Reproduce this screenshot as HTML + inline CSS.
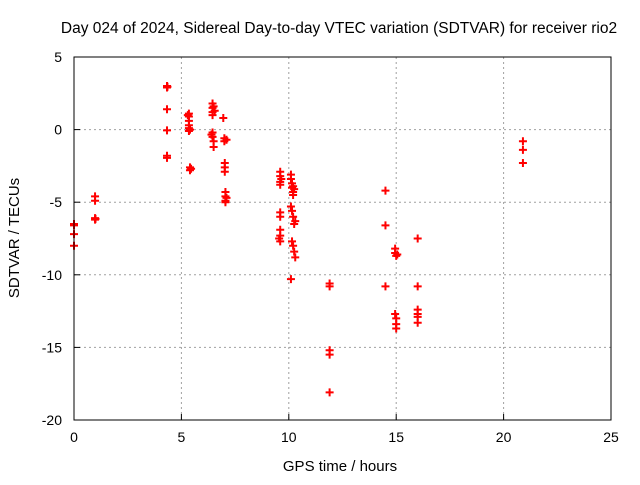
<!DOCTYPE html>
<html><head><meta charset="utf-8"><style>
body{margin:0;background:#fff}
svg text{font-family:"Liberation Sans",sans-serif;font-size:14px;fill:#000}
</style></head><body>
<svg id="c" width="640" height="480">
<text x="339" y="33" text-anchor="middle" style="font-size:15.5px">Day 024 of 2024, Sidereal Day-to-day VTEC variation (SDTVAR) for receiver rio2</text>
<text x="340" y="471" text-anchor="middle" style="font-size:15px">GPS time / hours</text>
<text transform="translate(19,238) rotate(-90)" text-anchor="middle" style="font-size:15px">SDTVAR / TECUs</text>
<g id="grid"></g><g id="pts"></g>
<rect x="74" y="57" width="537" height="363" fill="none" stroke="#000"/>
</svg>
<script>
const xTicks=[0,5,10,15,20,25];
const yTicks=[5,0,-5,-10,-15,-20];
const xs=[0,0,0,0, 0.98,0.98,0.98,0.98,1.0, 4.33,4.33,4.33,4.33,4.33,4.33,4.35,
5.35,5.35,5.35,5.35,5.35,5.35,5.4,5.4,5.3,5.4,5.45, 6.45,6.45,6.45,6.45,6.45,6.45,6.5,6.5,6.5,6.55,6.4,
6.95,7.0,7.0,7.02,7.02,7.02,7.05,7.05,7.05,7.05,7.1,7.1,
9.6,9.6,9.6,9.6,9.6,9.6,9.6,9.6,9.6,9.65,9.55,
10.1,10.1,10.15,10.15,10.2,10.2,10.1,10.15,10.2,10.25,10.15,10.2,10.25,10.3,10.1,10.25,10.3,10.2,
11.9,11.9,11.9,11.9,11.9, 14.5,14.5,14.5, 14.95,14.95,15.0,14.95,15.0,15.0,15.0,15.05,
16.0,16.0,16.0,16.0,16.0,16.0, 20.9,20.9,20.9];
const ys=[-6.5,-6.6,-7.2,-8.0, -4.6,-4.9,-6.1,-6.2,-6.15, 3.0,2.9,1.4,-0.05,-1.8,-1.95,2.95,
1.1,0.9,0.6,0.3,0.1,-0.1,-2.6,-2.8,1.0,0.0,-2.7, 1.8,1.5,1.2,1.0,-0.2,-0.5,-0.8,-1.2,1.6,1.3,-0.35,
0.8,-0.6,-0.8,-2.3,-2.6,-2.9,-4.3,-4.6,-4.9,-5.0,-4.7,-0.7,
-2.9,-3.2,-3.6,-3.8,-5.7,-6.0,-6.9,-7.3,-7.7,-3.4,-7.5,
-3.1,-3.4,-3.7,-4.0,-4.3,-4.5,-5.3,-5.6,-6.0,-6.5,-7.7,-8.0,-8.4,-8.8,-10.3,-4.1,-6.3,-3.9,
-10.6,-10.8,-15.2,-15.5,-18.1, -4.2,-6.6,-10.8, -8.2,-8.5,-8.7,-12.7,-13.0,-13.4,-13.7,-8.6,
-7.5,-10.8,-12.4,-12.7,-12.9,-13.3, -0.8,-1.4,-2.3];
const X=v=>74+v*(537/25), Y=v=>57+(5-v)*(363/25);
const NS='http://www.w3.org/2000/svg';
const g=document.getElementById('grid'), p=document.getElementById('pts');
function mk(t,a,par){const e=document.createElementNS(NS,t);for(const k in a)e.setAttribute(k,a[k]);par.appendChild(e);return e;}
xTicks.forEach(t=>{
 const l=mk('line',{x1:X(t),x2:X(t),y1:57,y2:420,stroke:'#a0a0a0','stroke-dasharray':'2,3'},g);
 
 
 mk('line',{x1:X(t),x2:X(t),y1:420,y2:414,stroke:'#000'},g);
 const tx=mk('text',{x:X(t),y:442,'text-anchor':'middle'},g);tx.textContent=t;
 
 
});
yTicks.forEach(t=>{
 const l=mk('line',{x1:74,x2:611,y1:Y(t),y2:Y(t),stroke:'#a0a0a0','stroke-dasharray':'2,3'},g);
 
 
 mk('line',{x1:74,x2:80,y1:Y(t),y2:Y(t),stroke:'#000'},g);
 const tx=mk('text',{x:62,y:Y(t)+5,'text-anchor':'end'},g);tx.textContent=t;
 
 
});
xs.forEach((x,i)=>{
 const cx=X(x),cy=Y(ys[i]);
 const e=mk('path',{d:`M${cx-4},${cy}H${cx+4}M${cx},${cy-4}V${cy+4}`,stroke:'#f00','stroke-width':2},p);
 
 
});
</script>
</body></html>
